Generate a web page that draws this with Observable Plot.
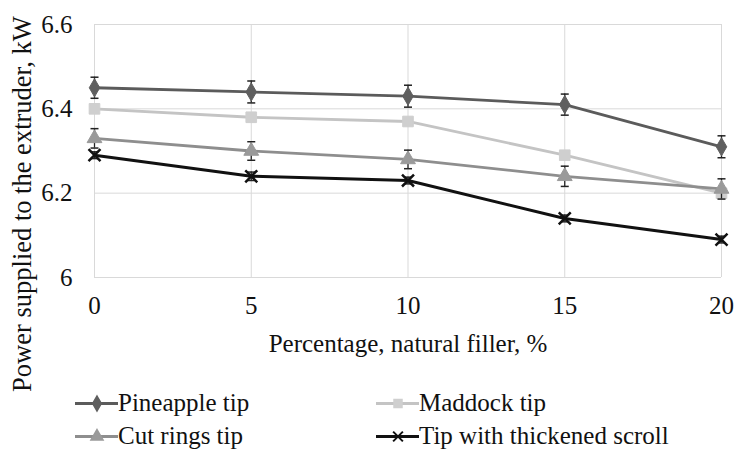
<!DOCTYPE html>
<html>
<head>
<meta charset="utf-8">
<script src="https://cdn.jsdelivr.net/npm/d3@7"></script>
<script src="https://cdn.jsdelivr.net/npm/@observablehq/plot@0.6"></script>
<style>
  html, body { margin: 0; padding: 0; background: #fff; }
  #wrap { position: relative; width: 736px; height: 452px; font-family: "Liberation Serif", "DejaVu Serif", serif; }
  #chart { position: absolute; left: 0; top: 0; }
  #legend { position: absolute; left: 0; top: 385px; width: 736px; font-size: 25px; color: #111; font-family: "Liberation Serif", "DejaVu Serif", serif; }
  .item { position: absolute; display: flex; align-items: center; height: 30px; }
  .item span { white-space: nowrap; }
  svg text { font-family: "Liberation Serif", "DejaVu Serif", serif; }
</style>
</head>
<body>
<div id="wrap">
  <div id="chart"></div>
  <div id="legend"></div>
</div>
<script>
const percentages = [0, 5, 10, 15, 20];
const seriesNames = ["Pineapple tip", "Maddock tip", "Cut rings tip", "Tip with thickened scroll"];
const pineapple = [6.45, 6.44, 6.43, 6.41, 6.31];
const maddock = [6.40, 6.38, 6.37, 6.29, 6.20];
const cutRings = [6.33, 6.30, 6.28, 6.24, 6.21];
const scroll = [6.29, 6.24, 6.23, 6.14, 6.09];
const pineappleErr = [0.025, 0.026, 0.026, 0.025, 0.026];
const maddockErr = [0, 0, 0, 0, 0];
const cutRingsErr = [0.023, 0.022, 0.022, 0.024, 0.024];
const scrollErr = [0.008, 0.01, 0.008, 0.008, 0.008];
const yTicks = [6, 6.2, 6.4, 6.6];
const xTicks = [0, 5, 10, 15, 20];
const yLabel = "Power supplied to the extruder, kW";
const xLabel = "Percentage, natural filler, %";

const FONT = "'Liberation Serif', 'DejaVu Serif', serif";

const styles = {
  "Pineapple tip": {color: "#5b5b5b", fill: "#5f5f5f", symbol: "diamond", r: 5.5},
  "Maddock tip": {color: "#c4c4c4", fill: "#cfcfcf", symbol: "square", r: 6},
  "Cut rings tip": {color: "#8e8e8e", fill: "#9a9a9a", symbol: "triangle", r: 5.5},
  "Tip with thickened scroll": {color: "#111111", fill: "none", symbol: "times", r: 5.5}
};

const values = [pineapple, maddock, cutRings, scroll];
const errs = [pineappleErr, maddockErr, cutRingsErr, scrollErr];
const rows = [];
seriesNames.forEach((name, i) => {
  percentages.forEach((p, j) => {
    rows.push({series: name, x: p, y: values[i][j], err: errs[i][j]});
  });
});

const capSymbol = {
  draw(context, size) {
    context.moveTo(-4, 0);
    context.lineTo(4, 0);
  }
};

const marks = [
  Plot.gridY(yTicks, {stroke: "#d9d9d9", strokeOpacity: 1, strokeWidth: 1}),
  Plot.gridX(xTicks, {stroke: "#d9d9d9", strokeOpacity: 1, strokeWidth: 1}),
  Plot.axisY(yTicks, {tickSize: 0, tickPadding: 22, fontSize: 25, tickFormat: d => String(d), label: null, fill: "#111"}),
  Plot.axisX(xTicks, {tickSize: 0, tickPadding: 19, fontSize: 25, tickFormat: d => String(d), label: null, fill: "#111"}),
  Plot.text([xLabel], {text: d => d, frameAnchor: "bottom", textAnchor: "middle", dy: 74, fontSize: 25, fill: "#111"}),
  Plot.text([yLabel], {text: d => d, frameAnchor: "left", textAnchor: "middle", rotate: -90, dx: -72, dy: 53, fontSize: 26.5, fill: "#111"})
];

seriesNames.forEach(name => {
  const s = styles[name];
  const data = rows.filter(d => d.series === name);
  const errData = data.filter(d => d.err > 0);
  marks.push(Plot.line(data, {x: "x", y: "y", stroke: s.color, strokeWidth: name === "Tip with thickened scroll" ? 3 : 2.8}));
  marks.push(Plot.ruleX(errData, {x: "x", y1: d => d.y - d.err, y2: d => d.y + d.err, stroke: "#222", strokeWidth: 1.3}));
  marks.push(Plot.dot(errData, {x: "x", y: d => d.y - d.err, symbol: capSymbol, stroke: "#222", strokeWidth: 1.5, r: 4}));
  marks.push(Plot.dot(errData, {x: "x", y: d => d.y + d.err, symbol: capSymbol, stroke: "#222", strokeWidth: 1.5, r: 4}));
  if (s.fill === "none") {
    marks.push(Plot.dot(data, {x: "x", y: "y", symbol: s.symbol, stroke: s.color, strokeWidth: 2.5, r: s.r}));
  } else {
    marks.push(Plot.dot(data, {x: "x", y: "y", symbol: s.symbol, fill: s.fill, stroke: s.fill, strokeWidth: 1, r: s.r}));
  }
});

const chart = Plot.plot({
  width: 736,
  height: 452,
  marginLeft: 94,
  marginRight: 15,
  marginTop: 24,
  marginBottom: 175,
  style: {fontFamily: FONT, fontSize: "25px", color: "#111", background: "#fff", overflow: "visible"},
  x: {domain: [0, 20]},
  y: {domain: [6, 6.6]},
  marks
});
document.getElementById("chart").appendChild(chart);

// Legend
const legendPos = [
  {left: 75, top: 3},
  {left: 376, top: 3},
  {left: 75, top: 36},
  {left: 376, top: 36}
];
const legend = document.getElementById("legend");
seriesNames.forEach((name, i) => {
  const s = styles[name];
  const div = document.createElement("div");
  div.className = "item";
  div.style.left = legendPos[i].left + "px";
  div.style.top = legendPos[i].top + "px";
  const sw = Plot.plot({
    width: 43, height: 30, margin: 0,
    x: {domain: [0, 1], axis: null}, y: {domain: [0, 1], axis: null},
    marks: [
      Plot.ruleY([0.5], {stroke: s.color, strokeWidth: 2.8}),
      s.fill === "none"
        ? Plot.dot([0.5], {x: d => d, y: 0.5, symbol: s.symbol, stroke: s.color, strokeWidth: 2, r: 4.5})
        : Plot.dot([0.5], {x: d => d, y: 0.5, symbol: s.symbol, fill: s.fill, stroke: s.fill, r: 4.5})
    ]
  });
  div.appendChild(sw);
  const t = document.createElement("span");
  t.textContent = name;
  div.appendChild(t);
  legend.appendChild(div);
});
</script>
</body>
</html>
